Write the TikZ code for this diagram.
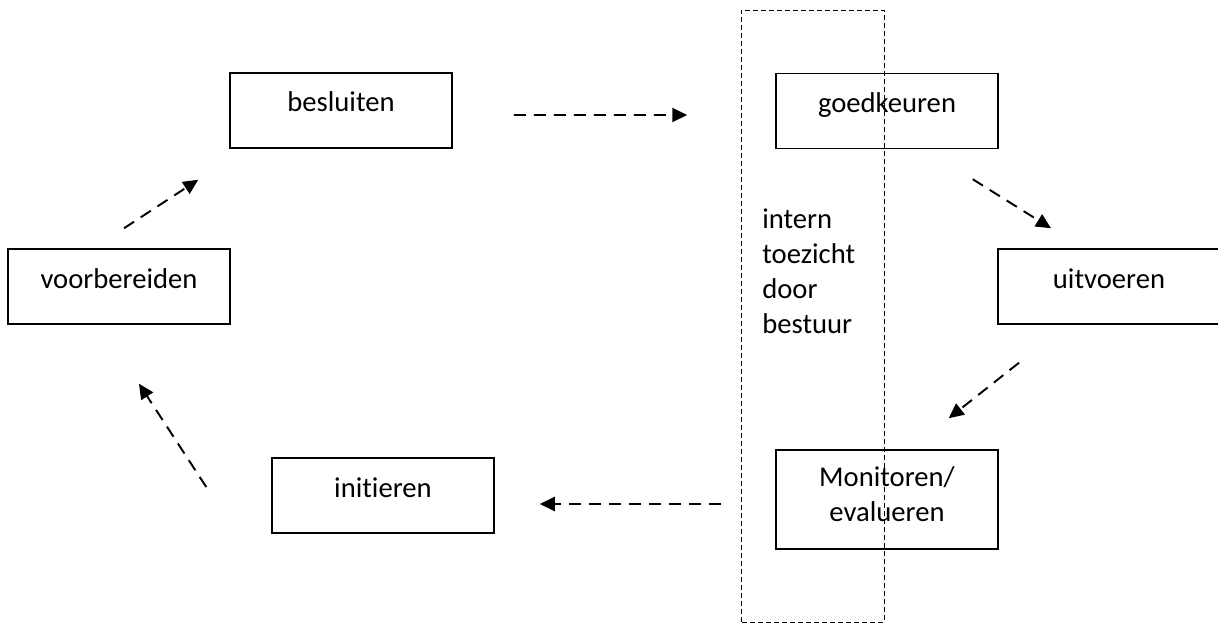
\documentclass[tikz,border=0pt]{standalone}
\usepackage{fontspec}
\setmainfont{Carlito}[Ligatures=CommonOff]
\usetikzlibrary{arrows.meta}
\begin{document}
\begin{tikzpicture}[
    stap/.style={draw, line width=0.85pt, minimum width=4.44cm, minimum height=1.5cm, inner sep=0pt, align=center, font=\fontsize{16.3}{19.9}\selectfont},
    enkel/.style={text height=0.4cm, text depth=0.34cm},
    pijl/.style={line width=1.1pt, dash pattern=on 0.24cm off 0.16cm, -{Triangle[length=0.3cm,width=0.28cm]}},
    kader/.style={line width=0.55pt, dash pattern=on 0.1cm off 0.06cm},
    ]
    \useasboundingbox (0,0) rectangle (24.36,12.46);

    \node[stap,enkel] (voorbereiden) at (2.38,6.73) {voorbereiden};
    \node[stap,enkel] (besluiten) at (6.82,10.25) {besluiten};
    \node[stap,enkel] (goedkeuren) at (17.74,10.24) {goedkeuren};
    \node[stap,enkel] (uitvoeren) at (22.18,6.73) {uitvoeren};
    \node[stap,minimum height=1.98cm,text depth=0.2cm] (monitoren) at (17.74,2.47) {Monitoren/\\evalueren};
    \node[stap,enkel] (initieren) at (7.66,2.55) {initieren};

    % intern toezicht
    \draw[kader] (14.82,0.02) rectangle (17.68,12.26);
    \node[anchor=base west, inner sep=0pt, align=left, font=\fontsize{16.3}{19.9}\selectfont] (toezicht) at (15.24,5.80) {intern\\toezicht\\door\\bestuur};

    \draw[pijl] ([shift={(0.1,0.4)}]voorbereiden.north) -- ([shift={(-0.62,-0.62)}]besluiten.south west);
    \draw[pijl] ([shift={(1.22,-0.09)}]besluiten.east) -- ([shift={(-1.76,-0.08)}]goedkeuren.west);
    \draw[pijl] ([shift={(-0.52,-0.6)}]goedkeuren.south east) -- ([shift={(-1.16,0.4)}]uitvoeren.north);
    \draw[pijl] ([shift={(-1.8,-0.76)}]uitvoeren.south) -- ([shift={(-1.0,0.62)}]monitoren.north east);
    \draw[pijl] ([shift={(-1.08,-0.09)}]monitoren.west) -- ([shift={(0.9,-0.17)}]initieren.east);
    \draw[pijl] ([shift={(-1.3,0.17)}]initieren.west) -- ([shift={(0.4,-1.18)}]voorbereiden.south);
\end{tikzpicture}
\end{document}
